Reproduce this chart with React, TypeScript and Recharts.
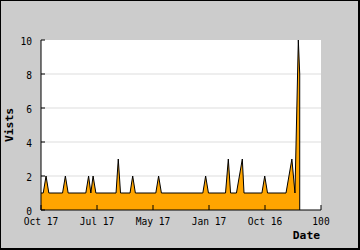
import { AreaChart, Area, XAxis, YAxis, CartesianGrid } from 'recharts';

// x position along the date axis and the visit count at that point
const days = [0, 0.8, 1.8, 2.8, 7.7, 8.7, 9.7, 16, 17, 17.8, 18.6, 19.6, 26.8, 27.6, 28.4, 31.8, 32.75, 33.7, 41, 42, 43, 57.8, 58.8, 59.8, 65.9, 66.9, 67.7, 69.8, 71.9, 72.5, 78.9, 79.9, 80.9, 87.5, 89.6, 90.7, 91.9, 92.4, 92.4];
const visits = [1, 1, 2, 1, 1, 2, 1, 1, 2, 1, 2, 1, 1, 3, 1, 1, 2, 1, 1, 2, 1, 1, 2, 1, 1, 3, 1, 1, 3, 1, 1, 2, 1, 1, 3, 1, 10, 8, 0];

const xTicks = [0, 20, 40, 60, 80, 100];
const xLabels = ['Oct 17', 'Jul 17', 'May 17', 'Jan 17', 'Oct 16', '100'];
const yTicks = [0, 1, 2, 3, 4, 5, 6, 7, 8, 9, 10];
const gridValues = [2, 4, 6, 8];

const data = days.map((day, i) => ({ day, visits: visits[i] }));

const FONT = '"DejaVu Sans Mono", monospace';

const XTick = (props: any) => {
  const { x, y, payload } = props;
  const i = xTicks.indexOf(payload.value);
  return (
    <g>
      <line x1={x} x2={x} y1={y - 5} y2={y} stroke="#000" />
      <text x={x} y={y + 15} textAnchor="middle" fontFamily={FONT} fontSize={9.6} fill="#000">
        {xLabels[i]}
      </text>
    </g>
  );
};

const YTick = (props: any) => {
  const { x, y, payload } = props;
  const major = payload.value % 2 === 0;
  return (
    <g>
      <line x1={x} x2={x + (major ? 4 : 3)} y1={y} y2={y} stroke="#000" />
      {major && (
        <text x={x - 9} y={y + 4.5} textAnchor="end" fontFamily={FONT} fontSize={9.6} fill="#000">
          {payload.value}
        </text>
      )}
    </g>
  );
};

const App = () => {
  return (
    <div
      style={{
        position: 'fixed',
        left: 0,
        top: 0,
        width: 360,
        height: 250,
        background: '#cccccc',
        boxShadow: 'inset 1px 1px 0 #000, inset -2px -2px 0 #000',
      }}
    >
      <AreaChart width={360} height={250} data={data} margin={{ top: 40, right: 39, left: 0, bottom: 0 }}>
        <CartesianGrid vertical={false} horizontalValues={gridValues} stroke="#dddddd" fill="#fff" />
        <Area
          type="linear"
          dataKey="visits"
          stroke="#000"
          strokeWidth={1}
          fill="#ffa500"
          fillOpacity={1}
          baseValue={0}
          dot={false}
          activeDot={false}
          isAnimationActive={false}
        />
        <XAxis
          dataKey="day"
          type="number"
          domain={[0, 100]}
          ticks={xTicks}
          height={40}
          tickSize={0}
          tickMargin={0}
          tick={<XTick />}
          axisLine={{ stroke: '#000' }}
          label={{
            content: ({ viewBox }: any) => (
              <text
                x={viewBox.x + viewBox.width - 1}
                y={viewBox.y + 29}
                textAnchor="end"
                fontFamily={FONT}
                fontSize={11.3}
                fontWeight="bold"
                fill="#000"
              >
                Date
              </text>
            ),
          }}
        />
        <YAxis
          type="number"
          domain={[0, 10]}
          ticks={yTicks}
          width={41}
          tickSize={0}
          tickMargin={0}
          tick={<YTick />}
          axisLine={{ stroke: '#000' }}
          label={{
            content: ({ viewBox }: any) => (
              <text
                x={13}
                y={viewBox.y + viewBox.height / 2}
                transform={`rotate(-90 13 ${viewBox.y + viewBox.height / 2})`}
                textAnchor="middle"
                fontFamily={FONT}
                fontSize={11.3}
                fontWeight="bold"
                fill="#000"
              >
                Vists
              </text>
            ),
          }}
        />
      </AreaChart>
    </div>
  );
};

export default App;
